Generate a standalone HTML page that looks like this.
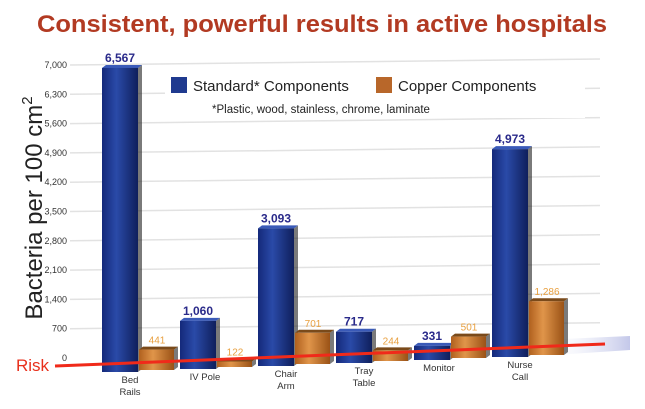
<!DOCTYPE html>
<html><head><meta charset="utf-8">
<style>
body{margin:0;background:#fff;}
svg text{font-family:"Liberation Sans",sans-serif;}
</style></head>
<body>
<svg id="chart" width="645" height="404" viewBox="0 0 645 404" xmlns="http://www.w3.org/2000/svg">
<defs>
<linearGradient id="gb" x1="0" x2="1"><stop offset="0" stop-color="#14297a"/><stop offset="0.4" stop-color="#2a4aa8"/><stop offset="1" stop-color="#0f1f5c"/></linearGradient>
<linearGradient id="go" x1="0" x2="1"><stop offset="0" stop-color="#b0601e"/><stop offset="0.4" stop-color="#e0954a"/><stop offset="1" stop-color="#9a5216"/></linearGradient>
<linearGradient id="gs" x1="0" x2="1"><stop offset="0" stop-color="#fff" stop-opacity="0"/><stop offset="1" stop-color="#aab0e0"/></linearGradient>
</defs>
<text x="37" y="32" textLength="570" lengthAdjust="spacingAndGlyphs" font-size="24" font-weight="bold" fill="#b23a22">Consistent, powerful results in active hospitals</text>
<text transform="translate(42,208) rotate(-90)" text-anchor="middle" font-size="24" fill="#222">Bacteria per 100 cm<tspan font-size="15" dy="-10">2</tspan></text>
<g id="grid"></g>
<rect x="165" y="72" width="420" height="46" fill="#fff"/>
<rect x="171" y="77" width="16" height="16" fill="#1f3a8f"/>
<text x="193" y="91" font-size="15" fill="#222">Standard* Components</text>
<rect x="376" y="77" width="16" height="16" fill="#b8672a"/>
<text x="398" y="91" font-size="15" fill="#222">Copper Components</text>
<text x="212" y="113" font-size="11.5" fill="#222">*Plastic, wood, stainless, chrome, laminate</text>
<g id="ticks"></g><g id="bars"></g>
<text x="16" y="371" font-size="17" fill="#e8301c">Risk</text>
<g id="overlay"></g>
</svg>
<script>
const categories = ["Bed|Rails","IV Pole","Chair|Arm","Tray|Table","Monitor","Nurse|Call"];
const standardValues = [6567,1060,3093,717,331,4973];
const copperValues = [441,122,701,244,501,1286];
const standardLabels = ["6,567","1,060","3,093","717","331","4,973"];
const copperLabels = ["441","122","701","244","501","1,286"];
const yTicks = [0,700,1400,2100,2800,3500,4200,4900,5600,6300,7000];
const yTickLabels = ["0","700","1,400","2,100","2,800","3,500","4,200","4,900","5,600","6,300","7,000"];

const NS="http://www.w3.org/2000/svg";
function mk(tag,attrs,parent){const e=document.createElementNS(NS,tag);for(const k in attrs)e.setAttribute(k,attrs[k]);parent.appendChild(e);return e;}
const axisY0=358, axisY1=65, yMax=7000;
function yAxis(v){return axisY0-(v/yMax)*(axisY0-axisY1);}
function pxPerUnit(i){return 0.0463-0.0009*i;}
function xCat(i){return 102+i*78;}
function baseY(i){return 372-i*3;}
function h(v,i){return v*pxPerUnit(i);}

const grid=document.getElementById('grid'), ticks=document.getElementById('ticks'), bars=document.getElementById('bars'), ov=document.getElementById('overlay');
yTicks.forEach((t,k)=>{
  const y=yAxis(t);
  if(t>0){const l=mk('line',{x1:70,y1:y,x2:600,y2:y-6,stroke:'#e2e2e2','stroke-width':1.5},grid);
  
  }
  const tx=mk('text',{x:67,y:y+3,'text-anchor':'end','font-size':9,fill:'#333'},ticks);
  tx.textContent=yTickLabels[k];
  
  
});
const sh=mk('polygon',{points:"540,340 630,336 630,350 540,356",fill:'url(#gs)',opacity:0.7},grid);



function bar(x,b,v,i,w,fill,top,name){
  const hh=h(v,i), y=b-hh;
  const g=mk('g',{},bars);
  
  
  mk('polygon',{points:`${x+w},${y} ${x+w+4},${y-3} ${x+w+4},${b-3} ${x+w},${b}`,fill:'#222',opacity:0.6},g);
  mk('polygon',{points:`${x},${y} ${x+4},${y-3} ${x+w+4},${y-3} ${x+w},${y}`,fill:top},g);
  mk('rect',{x:x,y:y,width:w,height:hh,fill:fill},g);
  return y;
}
categories.forEach((c,i)=>{
  const x=xCat(i), b=baseY(i);
  const yb=bar(x,b,standardValues[i],i,36,'url(#gb)','#3a5ab8','bar-standard-'+i);
  const yo=bar(x+37,b-2,copperValues[i],i,35,'url(#go)','#7a4a1a','bar-copper-'+i);
  const ts=mk('text',{x:x+18,y:yb-6,'text-anchor':'middle','font-size':12,'font-weight':'bold',fill:'#2a2a8a'},ov);
  ts.textContent=standardLabels[i];
  
  
  const to=mk('text',{x:x+55,y:yo-6,'text-anchor':'middle','font-size':10,fill:'#e8a040'},ov);
  to.textContent=copperLabels[i];
  
  
  const parts=c.split('|');
  parts.forEach((p,j)=>{
    const t=mk('text',{x:x+(parts.length>1?28:25),y:b+11+j*12,'text-anchor':'middle','font-size':9.5,fill:'#333'},ov);
    t.textContent=p;
    
    
  });
});
const rl=mk('line',{x1:55,y1:366,x2:605,y2:344,stroke:'#f02a1a','stroke-width':3},ov);


</script>
</body></html>
